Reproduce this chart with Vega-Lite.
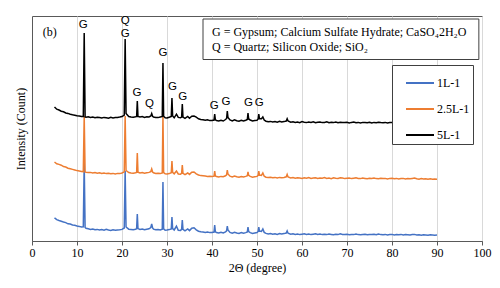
{
"$schema": "https://vega.github.io/schema/vega-lite/v6.json",
"width": 450, "height": 225,
"autosize": "none",
"padding": {"left": 32, "top": 16, "right": 18, "bottom": 47},
"background": "white",
"config": {"view": {"stroke": "#595959", "strokeWidth": 1}, "font": "Liberation Serif"},
"datasets": {
"xrd": [
{"s":"1L-1","x":5,"y":232},{"s":"1L-1","x":5.5,"y":214},{"s":"1L-1","x":6,"y":205},{"s":"1L-1","x":6.5,"y":198},{"s":"1L-1","x":7,"y":190},{"s":"1L-1","x":7.5,"y":184},{"s":"1L-1","x":8,"y":172},{"s":"1L-1","x":8.5,"y":170},{"s":"1L-1","x":9,"y":160},{"s":"1L-1","x":9.5,"y":158},{"s":"1L-1","x":10,"y":150},{"s":"1L-1","x":10.5,"y":146},{"s":"1L-1","x":11,"y":140},{"s":"1L-1","x":11.4,"y":142},{"s":"1L-1","x":11.6,"y":780},{"s":"1L-1","x":11.8,"y":135},{"s":"1L-1","x":12,"y":128},{"s":"1L-1","x":12.5,"y":122},{"s":"1L-1","x":13,"y":116},{"s":"1L-1","x":13.5,"y":120},{"s":"1L-1","x":14,"y":112},{"s":"1L-1","x":14.5,"y":116},{"s":"1L-1","x":15,"y":110},{"s":"1L-1","x":15.5,"y":114},{"s":"1L-1","x":16,"y":108},{"s":"1L-1","x":16.5,"y":118},{"s":"1L-1","x":17,"y":110},{"s":"1L-1","x":17.5,"y":106},{"s":"1L-1","x":18,"y":112},{"s":"1L-1","x":18.5,"y":108},{"s":"1L-1","x":19,"y":110},{"s":"1L-1","x":19.5,"y":112},{"s":"1L-1","x":20,"y":116},{"s":"1L-1","x":20.5,"y":130},{"s":"1L-1","x":20.7,"y":700},{"s":"1L-1","x":20.9,"y":140},{"s":"1L-1","x":21.5,"y":118},{"s":"1L-1","x":22,"y":115},{"s":"1L-1","x":22.5,"y":112},{"s":"1L-1","x":23,"y":118},{"s":"1L-1","x":23.25,"y":122},{"s":"1L-1","x":23.4,"y":270},{"s":"1L-1","x":23.55,"y":124},{"s":"1L-1","x":24,"y":116},{"s":"1L-1","x":24.5,"y":120},{"s":"1L-1","x":25,"y":112},{"s":"1L-1","x":25.5,"y":118},{"s":"1L-1","x":26,"y":122},{"s":"1L-1","x":26.4,"y":135},{"s":"1L-1","x":26.6,"y":170},{"s":"1L-1","x":26.8,"y":130},{"s":"1L-1","x":27,"y":118},{"s":"1L-1","x":27.5,"y":112},{"s":"1L-1","x":28,"y":114},{"s":"1L-1","x":28.5,"y":110},{"s":"1L-1","x":28.95,"y":118},{"s":"1L-1","x":29.1,"y":590},{"s":"1L-1","x":29.25,"y":122},{"s":"1L-1","x":29.6,"y":108},{"s":"1L-1","x":30,"y":110},{"s":"1L-1","x":30.5,"y":114},{"s":"1L-1","x":30.95,"y":120},{"s":"1L-1","x":31.1,"y":240},{"s":"1L-1","x":31.25,"y":124},{"s":"1L-1","x":31.6,"y":110},{"s":"1L-1","x":32.1,"y":148},{"s":"1L-1","x":32.5,"y":108},{"s":"1L-1","x":33,"y":106},{"s":"1L-1","x":33.25,"y":116},{"s":"1L-1","x":33.4,"y":210},{"s":"1L-1","x":33.55,"y":116},{"s":"1L-1","x":34,"y":102},{"s":"1L-1","x":34.6,"y":120},{"s":"1L-1","x":35,"y":104},{"s":"1L-1","x":35.5,"y":128},{"s":"1L-1","x":36,"y":132},{"s":"1L-1","x":36.5,"y":112},{"s":"1L-1","x":37,"y":98},{"s":"1L-1","x":37.5,"y":92},{"s":"1L-1","x":38,"y":90},{"s":"1L-1","x":38.5,"y":86},{"s":"1L-1","x":39,"y":90},{"s":"1L-1","x":39.5,"y":84},{"s":"1L-1","x":40,"y":86},{"s":"1L-1","x":40.45,"y":90},{"s":"1L-1","x":40.6,"y":160},{"s":"1L-1","x":40.75,"y":92},{"s":"1L-1","x":41,"y":84},{"s":"1L-1","x":41.5,"y":80},{"s":"1L-1","x":42,"y":86},{"s":"1L-1","x":42.5,"y":80},{"s":"1L-1","x":43,"y":92},{"s":"1L-1","x":43.25,"y":102},{"s":"1L-1","x":43.4,"y":150},{"s":"1L-1","x":43.55,"y":110},{"s":"1L-1","x":44,"y":86},{"s":"1L-1","x":44.5,"y":78},{"s":"1L-1","x":45,"y":88},{"s":"1L-1","x":45.5,"y":80},{"s":"1L-1","x":46,"y":76},{"s":"1L-1","x":46.5,"y":84},{"s":"1L-1","x":47,"y":78},{"s":"1L-1","x":47.5,"y":84},{"s":"1L-1","x":47.85,"y":90},{"s":"1L-1","x":48,"y":140},{"s":"1L-1","x":48.15,"y":94},{"s":"1L-1","x":48.5,"y":84},{"s":"1L-1","x":49,"y":76},{"s":"1L-1","x":49.5,"y":80},{"s":"1L-1","x":50,"y":84},{"s":"1L-1","x":50.25,"y":96},{"s":"1L-1","x":50.4,"y":140},{"s":"1L-1","x":50.55,"y":100},{"s":"1L-1","x":51,"y":96},{"s":"1L-1","x":51.3,"y":120},{"s":"1L-1","x":51.6,"y":86},{"s":"1L-1","x":52,"y":76},{"s":"1L-1","x":52.5,"y":70},{"s":"1L-1","x":53,"y":74},{"s":"1L-1","x":53.5,"y":68},{"s":"1L-1","x":54,"y":72},{"s":"1L-1","x":54.5,"y":66},{"s":"1L-1","x":55,"y":74},{"s":"1L-1","x":55.5,"y":70},{"s":"1L-1","x":56,"y":74},{"s":"1L-1","x":56.5,"y":80},{"s":"1L-1","x":56.7,"y":100},{"s":"1L-1","x":56.9,"y":78},{"s":"1L-1","x":57.5,"y":68},
{"s":"1L-1","x":58,"y":72},{"s":"1L-1","x":58.5,"y":66},{"s":"1L-1","x":59,"y":70},{"s":"1L-1","x":59.5,"y":64},{"s":"1L-1","x":60,"y":68},{"s":"1L-1","x":60.5,"y":72},{"s":"1L-1","x":61,"y":66},{"s":"1L-1","x":61.5,"y":70},{"s":"1L-1","x":62,"y":64},{"s":"1L-1","x":62.5,"y":68},{"s":"1L-1","x":63,"y":72},{"s":"1L-1","x":63.5,"y":66},{"s":"1L-1","x":64,"y":70},{"s":"1L-1","x":64.5,"y":64},{"s":"1L-1","x":65,"y":68},{"s":"1L-1","x":65.5,"y":64},{"s":"1L-1","x":66,"y":70},{"s":"1L-1","x":66.5,"y":66},{"s":"1L-1","x":67,"y":62},{"s":"1L-1","x":67.5,"y":68},{"s":"1L-1","x":68,"y":64},{"s":"1L-1","x":68.5,"y":72},{"s":"1L-1","x":69,"y":66},{"s":"1L-1","x":69.5,"y":64},{"s":"1L-1","x":70,"y":68},{"s":"1L-1","x":70.5,"y":62},{"s":"1L-1","x":71,"y":66},{"s":"1L-1","x":71.5,"y":64},{"s":"1L-1","x":72,"y":70},{"s":"1L-1","x":72.5,"y":64},{"s":"1L-1","x":73,"y":62},{"s":"1L-1","x":73.5,"y":66},{"s":"1L-1","x":74,"y":68},{"s":"1L-1","x":74.5,"y":62},{"s":"1L-1","x":75,"y":66},{"s":"1L-1","x":75.5,"y":64},{"s":"1L-1","x":76,"y":68},{"s":"1L-1","x":76.5,"y":62},{"s":"1L-1","x":77,"y":70},{"s":"1L-1","x":77.5,"y":64},{"s":"1L-1","x":78,"y":62},{"s":"1L-1","x":78.5,"y":66},{"s":"1L-1","x":79,"y":60},{"s":"1L-1","x":79.5,"y":64},{"s":"1L-1","x":80,"y":66},{"s":"1L-1","x":80.5,"y":60},{"s":"1L-1","x":81,"y":64},{"s":"1L-1","x":81.5,"y":62},{"s":"1L-1","x":82,"y":66},{"s":"1L-1","x":82.5,"y":60},{"s":"1L-1","x":83,"y":64},{"s":"1L-1","x":83.5,"y":62},{"s":"1L-1","x":84,"y":60},{"s":"1L-1","x":84.5,"y":64},{"s":"1L-1","x":85,"y":66},{"s":"1L-1","x":85.5,"y":60},{"s":"1L-1","x":86,"y":62},{"s":"1L-1","x":86.5,"y":58},{"s":"1L-1","x":87,"y":62},{"s":"1L-1","x":87.5,"y":60},{"s":"1L-1","x":88,"y":58},{"s":"1L-1","x":88.5,"y":62},{"s":"1L-1","x":89,"y":60},{"s":"1L-1","x":89.5,"y":58},{"s":"1L-1","x":90,"y":60},
{"s":"2.5L-1","x":5,"y":790},{"s":"2.5L-1","x":5.5,"y":772},{"s":"2.5L-1","x":6,"y":766},{"s":"2.5L-1","x":6.5,"y":758},{"s":"2.5L-1","x":7,"y":744},{"s":"2.5L-1","x":7.5,"y":740},{"s":"2.5L-1","x":8,"y":728},{"s":"2.5L-1","x":8.5,"y":722},{"s":"2.5L-1","x":9,"y":716},{"s":"2.5L-1","x":9.5,"y":710},{"s":"2.5L-1","x":10,"y":704},{"s":"2.5L-1","x":10.5,"y":700},{"s":"2.5L-1","x":11,"y":696},{"s":"2.5L-1","x":11.4,"y":694},{"s":"2.5L-1","x":11.6,"y":1250},{"s":"2.5L-1","x":11.8,"y":690},{"s":"2.5L-1","x":12,"y":688},{"s":"2.5L-1","x":12.5,"y":684},{"s":"2.5L-1","x":13,"y":686},{"s":"2.5L-1","x":13.5,"y":680},{"s":"2.5L-1","x":14,"y":684},{"s":"2.5L-1","x":14.5,"y":678},{"s":"2.5L-1","x":15,"y":682},{"s":"2.5L-1","x":15.5,"y":676},{"s":"2.5L-1","x":16,"y":680},{"s":"2.5L-1","x":16.5,"y":674},{"s":"2.5L-1","x":17,"y":678},{"s":"2.5L-1","x":17.5,"y":672},{"s":"2.5L-1","x":18,"y":676},{"s":"2.5L-1","x":18.5,"y":670},{"s":"2.5L-1","x":19,"y":676},{"s":"2.5L-1","x":19.5,"y":674},{"s":"2.5L-1","x":20,"y":680},{"s":"2.5L-1","x":20.5,"y":692},{"s":"2.5L-1","x":20.7,"y":1250},{"s":"2.5L-1","x":20.9,"y":705},{"s":"2.5L-1","x":21.5,"y":684},{"s":"2.5L-1","x":22,"y":680},{"s":"2.5L-1","x":22.5,"y":678},{"s":"2.5L-1","x":23,"y":682},{"s":"2.5L-1","x":23.25,"y":686},{"s":"2.5L-1","x":23.4,"y":880},{"s":"2.5L-1","x":23.55,"y":688},{"s":"2.5L-1","x":24,"y":680},{"s":"2.5L-1","x":24.5,"y":684},{"s":"2.5L-1","x":25,"y":678},{"s":"2.5L-1","x":25.5,"y":682},{"s":"2.5L-1","x":26,"y":686},{"s":"2.5L-1","x":26.4,"y":694},{"s":"2.5L-1","x":26.6,"y":720},{"s":"2.5L-1","x":26.8,"y":690},{"s":"2.5L-1","x":27,"y":682},{"s":"2.5L-1","x":27.5,"y":676},{"s":"2.5L-1","x":28,"y":678},{"s":"2.5L-1","x":28.5,"y":674},{"s":"2.5L-1","x":28.95,"y":680},{"s":"2.5L-1","x":29.1,"y":1250},{"s":"2.5L-1","x":29.25,"y":684},{"s":"2.5L-1","x":29.6,"y":672},{"s":"2.5L-1","x":30,"y":670},{"s":"2.5L-1","x":30.5,"y":674},{"s":"2.5L-1","x":30.95,"y":682},{"s":"2.5L-1","x":31.1,"y":800},{"s":"2.5L-1","x":31.25,"y":686},{"s":"2.5L-1","x":31.6,"y":672},{"s":"2.5L-1","x":32.1,"y":700},{"s":"2.5L-1","x":32.5,"y":670},{"s":"2.5L-1","x":33,"y":668},{"s":"2.5L-1","x":33.25,"y":676},{"s":"2.5L-1","x":33.4,"y":760},{"s":"2.5L-1","x":33.55,"y":676},{"s":"2.5L-1","x":34,"y":664},{"s":"2.5L-1","x":34.6,"y":680},{"s":"2.5L-1","x":35,"y":666},{"s":"2.5L-1","x":35.5,"y":688},{"s":"2.5L-1","x":36,"y":690},{"s":"2.5L-1","x":36.5,"y":672},{"s":"2.5L-1","x":37,"y":660},{"s":"2.5L-1","x":37.5,"y":654},{"s":"2.5L-1","x":38,"y":652},{"s":"2.5L-1","x":38.5,"y":650},{"s":"2.5L-1","x":39,"y":646},{"s":"2.5L-1","x":39.5,"y":648},{"s":"2.5L-1","x":40,"y":644},{"s":"2.5L-1","x":40.45,"y":648},{"s":"2.5L-1","x":40.6,"y":700},{"s":"2.5L-1","x":40.75,"y":650},{"s":"2.5L-1","x":41,"y":644},{"s":"2.5L-1","x":41.5,"y":640},{"s":"2.5L-1","x":42,"y":646},{"s":"2.5L-1","x":42.5,"y":642},{"s":"2.5L-1","x":43,"y":652},{"s":"2.5L-1","x":43.25,"y":662},{"s":"2.5L-1","x":43.4,"y":710},{"s":"2.5L-1","x":43.55,"y":670},{"s":"2.5L-1","x":44,"y":648},{"s":"2.5L-1","x":44.5,"y":640},{"s":"2.5L-1","x":45,"y":650},{"s":"2.5L-1","x":45.5,"y":642},{"s":"2.5L-1","x":46,"y":638},{"s":"2.5L-1","x":46.5,"y":644},{"s":"2.5L-1","x":47,"y":640},{"s":"2.5L-1","x":47.5,"y":646},{"s":"2.5L-1","x":47.85,"y":652},{"s":"2.5L-1","x":48,"y":690},{"s":"2.5L-1","x":48.15,"y":656},{"s":"2.5L-1","x":48.5,"y":646},{"s":"2.5L-1","x":49,"y":638},{"s":"2.5L-1","x":49.5,"y":642},{"s":"2.5L-1","x":50,"y":646},{"s":"2.5L-1","x":50.25,"y":656},{"s":"2.5L-1","x":50.4,"y":700},{"s":"2.5L-1","x":50.55,"y":660},{"s":"2.5L-1","x":51,"y":656},{"s":"2.5L-1","x":51.3,"y":680},{"s":"2.5L-1","x":51.6,"y":648},{"s":"2.5L-1","x":52,"y":638},{"s":"2.5L-1","x":52.5,"y":634},{"s":"2.5L-1","x":53,"y":638},{"s":"2.5L-1","x":53.5,"y":632},{"s":"2.5L-1","x":54,"y":636},{"s":"2.5L-1","x":54.5,"y":630},{"s":"2.5L-1","x":55,"y":636},{"s":"2.5L-1","x":55.5,"y":632},{"s":"2.5L-1","x":56,"y":636},{"s":"2.5L-1","x":56.5,"y":642},{"s":"2.5L-1","x":56.7,"y":665},{"s":"2.5L-1","x":56.9,"y":640},{"s":"2.5L-1","x":57.5,"y":630},
{"s":"2.5L-1","x":58,"y":634},{"s":"2.5L-1","x":58.5,"y":628},{"s":"2.5L-1","x":59,"y":632},{"s":"2.5L-1","x":59.5,"y":630},{"s":"2.5L-1","x":60,"y":626},{"s":"2.5L-1","x":60.5,"y":632},{"s":"2.5L-1","x":61,"y":628},{"s":"2.5L-1","x":61.5,"y":634},{"s":"2.5L-1","x":62,"y":626},{"s":"2.5L-1","x":62.5,"y":630},{"s":"2.5L-1","x":63,"y":632},{"s":"2.5L-1","x":63.5,"y":626},{"s":"2.5L-1","x":64,"y":630},{"s":"2.5L-1","x":64.5,"y":628},{"s":"2.5L-1","x":65,"y":634},{"s":"2.5L-1","x":65.5,"y":626},{"s":"2.5L-1","x":66,"y":630},{"s":"2.5L-1","x":66.5,"y":624},{"s":"2.5L-1","x":67,"y":632},{"s":"2.5L-1","x":67.5,"y":628},{"s":"2.5L-1","x":68,"y":626},{"s":"2.5L-1","x":68.5,"y":632},{"s":"2.5L-1","x":69,"y":630},{"s":"2.5L-1","x":69.5,"y":624},{"s":"2.5L-1","x":70,"y":628},{"s":"2.5L-1","x":70.5,"y":630},{"s":"2.5L-1","x":71,"y":624},{"s":"2.5L-1","x":71.5,"y":628},{"s":"2.5L-1","x":72,"y":632},{"s":"2.5L-1","x":72.5,"y":626},{"s":"2.5L-1","x":73,"y":624},{"s":"2.5L-1","x":73.5,"y":630},{"s":"2.5L-1","x":74,"y":626},{"s":"2.5L-1","x":74.5,"y":622},{"s":"2.5L-1","x":75,"y":628},{"s":"2.5L-1","x":75.5,"y":626},{"s":"2.5L-1","x":76,"y":630},{"s":"2.5L-1","x":76.5,"y":624},{"s":"2.5L-1","x":77,"y":622},{"s":"2.5L-1","x":77.5,"y":628},{"s":"2.5L-1","x":78,"y":624},{"s":"2.5L-1","x":78.5,"y":626},{"s":"2.5L-1","x":79,"y":620},{"s":"2.5L-1","x":79.5,"y":626},{"s":"2.5L-1","x":80,"y":628},{"s":"2.5L-1","x":80.5,"y":622},{"s":"2.5L-1","x":81,"y":626},{"s":"2.5L-1","x":81.5,"y":620},{"s":"2.5L-1","x":82,"y":624},{"s":"2.5L-1","x":82.5,"y":626},{"s":"2.5L-1","x":83,"y":620},{"s":"2.5L-1","x":83.5,"y":624},{"s":"2.5L-1","x":84,"y":622},{"s":"2.5L-1","x":84.5,"y":626},{"s":"2.5L-1","x":85,"y":630},{"s":"2.5L-1","x":85.5,"y":622},{"s":"2.5L-1","x":86,"y":618},{"s":"2.5L-1","x":86.5,"y":624},{"s":"2.5L-1","x":87,"y":620},{"s":"2.5L-1","x":87.5,"y":622},{"s":"2.5L-1","x":88,"y":618},{"s":"2.5L-1","x":88.5,"y":622},{"s":"2.5L-1","x":89,"y":618},{"s":"2.5L-1","x":89.5,"y":620},{"s":"2.5L-1","x":90,"y":618},
{"s":"5L-1","x":5,"y":1340},{"s":"5L-1","x":5.5,"y":1318},{"s":"5L-1","x":6,"y":1310},{"s":"5L-1","x":6.5,"y":1298},{"s":"5L-1","x":7,"y":1292},{"s":"5L-1","x":7.5,"y":1280},{"s":"5L-1","x":8,"y":1276},{"s":"5L-1","x":8.5,"y":1268},{"s":"5L-1","x":9,"y":1262},{"s":"5L-1","x":9.5,"y":1258},{"s":"5L-1","x":10,"y":1252},{"s":"5L-1","x":10.5,"y":1250},{"s":"5L-1","x":11,"y":1246},{"s":"5L-1","x":11.4,"y":1245},{"s":"5L-1","x":11.6,"y":2080},{"s":"5L-1","x":11.8,"y":1240},{"s":"5L-1","x":12,"y":1238},{"s":"5L-1","x":12.5,"y":1242},{"s":"5L-1","x":13,"y":1236},{"s":"5L-1","x":13.5,"y":1240},{"s":"5L-1","x":14,"y":1232},{"s":"5L-1","x":14.5,"y":1238},{"s":"5L-1","x":15,"y":1234},{"s":"5L-1","x":15.5,"y":1230},{"s":"5L-1","x":16,"y":1236},{"s":"5L-1","x":16.5,"y":1232},{"s":"5L-1","x":17,"y":1228},{"s":"5L-1","x":17.5,"y":1236},{"s":"5L-1","x":18,"y":1230},{"s":"5L-1","x":18.5,"y":1234},{"s":"5L-1","x":19,"y":1236},{"s":"5L-1","x":19.5,"y":1240},{"s":"5L-1","x":20,"y":1245},{"s":"5L-1","x":20.5,"y":1260},{"s":"5L-1","x":20.7,"y":2020},{"s":"5L-1","x":20.9,"y":1275},{"s":"5L-1","x":21.5,"y":1245},{"s":"5L-1","x":22,"y":1240},{"s":"5L-1","x":22.5,"y":1238},{"s":"5L-1","x":23,"y":1242},{"s":"5L-1","x":23.25,"y":1245},{"s":"5L-1","x":23.4,"y":1400},{"s":"5L-1","x":23.55,"y":1245},{"s":"5L-1","x":24,"y":1240},{"s":"5L-1","x":24.5,"y":1244},{"s":"5L-1","x":25,"y":1236},{"s":"5L-1","x":25.5,"y":1242},{"s":"5L-1","x":26,"y":1240},{"s":"5L-1","x":26.4,"y":1250},{"s":"5L-1","x":26.6,"y":1275},{"s":"5L-1","x":26.8,"y":1248},{"s":"5L-1","x":27,"y":1240},{"s":"5L-1","x":27.5,"y":1236},{"s":"5L-1","x":28,"y":1234},{"s":"5L-1","x":28.5,"y":1240},{"s":"5L-1","x":28.95,"y":1245},{"s":"5L-1","x":29.1,"y":1780},{"s":"5L-1","x":29.25,"y":1248},{"s":"5L-1","x":29.6,"y":1232},{"s":"5L-1","x":30,"y":1230},{"s":"5L-1","x":30.5,"y":1238},{"s":"5L-1","x":30.95,"y":1245},{"s":"5L-1","x":31.1,"y":1430},{"s":"5L-1","x":31.25,"y":1250},{"s":"5L-1","x":31.6,"y":1232},{"s":"5L-1","x":32.1,"y":1268},{"s":"5L-1","x":32.5,"y":1236},{"s":"5L-1","x":33,"y":1232},{"s":"5L-1","x":33.25,"y":1240},{"s":"5L-1","x":33.4,"y":1370},{"s":"5L-1","x":33.55,"y":1240},{"s":"5L-1","x":34,"y":1226},{"s":"5L-1","x":34.6,"y":1246},{"s":"5L-1","x":35,"y":1228},{"s":"5L-1","x":35.5,"y":1248},{"s":"5L-1","x":36,"y":1250},{"s":"5L-1","x":36.5,"y":1238},{"s":"5L-1","x":37,"y":1222},{"s":"5L-1","x":37.5,"y":1216},{"s":"5L-1","x":38,"y":1212},{"s":"5L-1","x":38.5,"y":1208},{"s":"5L-1","x":39,"y":1212},{"s":"5L-1","x":39.5,"y":1204},{"s":"5L-1","x":40,"y":1206},{"s":"5L-1","x":40.45,"y":1210},{"s":"5L-1","x":40.6,"y":1270},{"s":"5L-1","x":40.75,"y":1212},{"s":"5L-1","x":41,"y":1205},{"s":"5L-1","x":41.5,"y":1200},{"s":"5L-1","x":42,"y":1206},{"s":"5L-1","x":42.5,"y":1200},{"s":"5L-1","x":43,"y":1215},{"s":"5L-1","x":43.25,"y":1225},{"s":"5L-1","x":43.4,"y":1300},{"s":"5L-1","x":43.55,"y":1235},{"s":"5L-1","x":44,"y":1210},{"s":"5L-1","x":44.5,"y":1200},{"s":"5L-1","x":45,"y":1212},{"s":"5L-1","x":45.5,"y":1202},{"s":"5L-1","x":46,"y":1198},{"s":"5L-1","x":46.5,"y":1206},{"s":"5L-1","x":47,"y":1200},{"s":"5L-1","x":47.5,"y":1208},{"s":"5L-1","x":47.85,"y":1215},{"s":"5L-1","x":48,"y":1280},{"s":"5L-1","x":48.15,"y":1220},{"s":"5L-1","x":48.5,"y":1210},{"s":"5L-1","x":49,"y":1200},{"s":"5L-1","x":49.5,"y":1204},{"s":"5L-1","x":50,"y":1208},{"s":"5L-1","x":50.25,"y":1220},{"s":"5L-1","x":50.4,"y":1270},{"s":"5L-1","x":50.55,"y":1225},{"s":"5L-1","x":51,"y":1222},{"s":"5L-1","x":51.3,"y":1240},{"s":"5L-1","x":51.6,"y":1210},{"s":"5L-1","x":52,"y":1198},{"s":"5L-1","x":52.5,"y":1192},{"s":"5L-1","x":53,"y":1196},{"s":"5L-1","x":53.5,"y":1190},{"s":"5L-1","x":54,"y":1194},{"s":"5L-1","x":54.5,"y":1188},{"s":"5L-1","x":55,"y":1196},{"s":"5L-1","x":55.5,"y":1190},{"s":"5L-1","x":56,"y":1194},{"s":"5L-1","x":56.5,"y":1200},{"s":"5L-1","x":56.7,"y":1222},{"s":"5L-1","x":56.9,"y":1200},{"s":"5L-1","x":57.5,"y":1188},
{"s":"5L-1","x":58,"y":1192},{"s":"5L-1","x":58.5,"y":1186},{"s":"5L-1","x":59,"y":1190},{"s":"5L-1","x":59.5,"y":1184},{"s":"5L-1","x":60,"y":1194},{"s":"5L-1","x":60.5,"y":1188},{"s":"5L-1","x":61,"y":1184},{"s":"5L-1","x":61.5,"y":1190},{"s":"5L-1","x":62,"y":1186},{"s":"5L-1","x":62.5,"y":1192},{"s":"5L-1","x":63,"y":1182},{"s":"5L-1","x":63.5,"y":1188},{"s":"5L-1","x":64,"y":1190},{"s":"5L-1","x":64.5,"y":1184},{"s":"5L-1","x":65,"y":1186},{"s":"5L-1","x":65.5,"y":1192},{"s":"5L-1","x":66,"y":1182},{"s":"5L-1","x":66.5,"y":1188},{"s":"5L-1","x":67,"y":1184},{"s":"5L-1","x":67.5,"y":1190},{"s":"5L-1","x":68,"y":1182},{"s":"5L-1","x":68.5,"y":1188},{"s":"5L-1","x":69,"y":1184},{"s":"5L-1","x":69.5,"y":1184},{"s":"5L-1","x":70,"y":1188},{"s":"5L-1","x":70.5,"y":1180},{"s":"5L-1","x":71,"y":1186},{"s":"5L-1","x":71.5,"y":1190},{"s":"5L-1","x":72,"y":1182},{"s":"5L-1","x":72.5,"y":1186},{"s":"5L-1","x":73,"y":1180},{"s":"5L-1","x":73.5,"y":1186},{"s":"5L-1","x":74,"y":1184},{"s":"5L-1","x":74.5,"y":1182},{"s":"5L-1","x":75,"y":1188},{"s":"5L-1","x":75.5,"y":1180},{"s":"5L-1","x":76,"y":1186},{"s":"5L-1","x":76.5,"y":1182},{"s":"5L-1","x":77,"y":1188},{"s":"5L-1","x":77.5,"y":1184},{"s":"5L-1","x":78,"y":1182},{"s":"5L-1","x":78.5,"y":1186},{"s":"5L-1","x":79,"y":1180},{"s":"5L-1","x":79.5,"y":1184},{"s":"5L-1","x":80,"y":1186},{"s":"5L-1","x":80.5,"y":1180},{"s":"5L-1","x":81,"y":1188},{"s":"5L-1","x":81.5,"y":1182},{"s":"5L-1","x":82,"y":1184},{"s":"5L-1","x":82.5,"y":1180},{"s":"5L-1","x":83,"y":1186},{"s":"5L-1","x":83.5,"y":1182},{"s":"5L-1","x":84,"y":1178},{"s":"5L-1","x":84.5,"y":1184},{"s":"5L-1","x":85,"y":1188},{"s":"5L-1","x":85.5,"y":1182},{"s":"5L-1","x":86,"y":1178},{"s":"5L-1","x":86.5,"y":1184},{"s":"5L-1","x":87,"y":1180},{"s":"5L-1","x":87.5,"y":1182},{"s":"5L-1","x":88,"y":1178},{"s":"5L-1","x":88.5,"y":1184},{"s":"5L-1","x":89,"y":1180},{"s":"5L-1","x":89.5,"y":1182},{"s":"5L-1","x":90,"y":1178}
],
"box": [{"x": 38, "x2": 99.3, "y": 2220, "y2": 1815}],
"notes": [
{"x": 40, "y": 2090, "t": "G = Gypsum; Calcium Sulfate Hydrate; CaSO₄2H₂O"},
{"x": 40, "y": 1940, "t": "Q = Quartz; Silicon Oxide; SiO₂"},
{"x": 2.4, "y": 2090, "t": "(b)"}
],
"peaks": [
{"x": 11.4, "y": 2160, "t": "G"},
{"x": 20.7, "y": 2203, "t": "Q"},
{"x": 20.7, "y": 2070, "t": "G"},
{"x": 23.3, "y": 1483, "t": "G"},
{"x": 26.1, "y": 1370, "t": "Q"},
{"x": 29.1, "y": 1880, "t": "G"},
{"x": 31.2, "y": 1540, "t": "G"},
{"x": 33.5, "y": 1440, "t": "G"},
{"x": 40.5, "y": 1353, "t": "G"},
{"x": 43.1, "y": 1393, "t": "G"},
{"x": 48.1, "y": 1377, "t": "G"},
{"x": 50.5, "y": 1377, "t": "G"}
]
},
"layer": [
{
"data": {"name": "xrd"},
"mark": {"type": "line", "strokeWidth": 1.5},
"encoding": {
"x": {"field": "x", "type": "quantitative", "scale": {"domain": [0, 100], "nice": false},
"axis": {"title": "2Θ (degree)", "values": [0,10,20,30,40,50,60,70,80,90,100], "grid": true, "gridColor": "#d9d9d9", "gridWidth": 1, "tickSize": 4, "tickColor": "#595959", "domainColor": "#595959", "labelFont": "Liberation Serif", "labelFontSize": 12, "labelColor": "#000000", "labelPadding": 2, "labelFlush": false, "labelOverlap": false, "titleFont": "Liberation Serif", "titleFontSize": 12, "titleFontWeight": "normal", "titleColor": "#000000", "titlePadding": 4}},
"y": {"field": "y", "type": "quantitative", "scale": {"domain": [0, 2250], "nice": false},
"axis": {"title": "Intensity (Count)", "labels": false, "ticks": false, "grid": false, "domainColor": "#595959", "titleFont": "Liberation Serif", "titleFontSize": 12, "titleFontWeight": "normal", "titleColor": "#000000", "titlePadding": 5}},
"color": {"field": "s", "type": "nominal",
"scale": {"domain": ["1L-1", "2.5L-1", "5L-1"], "range": ["#4472C4", "#ED7D31", "#000000"]},
"legend": {"title": null, "orient": "none", "legendX": 360, "legendY": 49, "symbolType": "stroke", "symbolSize": 784, "symbolStrokeWidth": 2, "symbolOffset": 10, "padding": 3, "rowPadding": 5, "labelOffset": 2, "labelExpr": "datum.label + '      '", "labelFont": "Liberation Serif", "labelFontSize": 12, "labelColor": "#000000", "strokeColor": "#404040", "fillColor": "#ffffff"}}
}
},
{
"data": {"name": "box"},
"mark": {"type": "rect", "fill": "#ffffff", "stroke": "#404040", "strokeWidth": 1},
"encoding": {
"x": {"field": "x", "type": "quantitative"}, "x2": {"field": "x2"},
"y": {"field": "y", "type": "quantitative"}, "y2": {"field": "y2"}
}
},
{
"data": {"name": "notes"},
"mark": {"type": "text", "align": "left", "baseline": "middle", "font": "Liberation Serif", "fontSize": 12, "color": "#000000"},
"encoding": {
"x": {"field": "x", "type": "quantitative"},
"y": {"field": "y", "type": "quantitative"},
"text": {"field": "t"}
}
},
{
"data": {"name": "peaks"},
"mark": {"type": "text", "align": "center", "baseline": "middle", "font": "Liberation Sans", "fontSize": 11.5, "color": "#000000"},
"encoding": {
"x": {"field": "x", "type": "quantitative"},
"y": {"field": "y", "type": "quantitative"},
"text": {"field": "t"}
}
}
]
}
